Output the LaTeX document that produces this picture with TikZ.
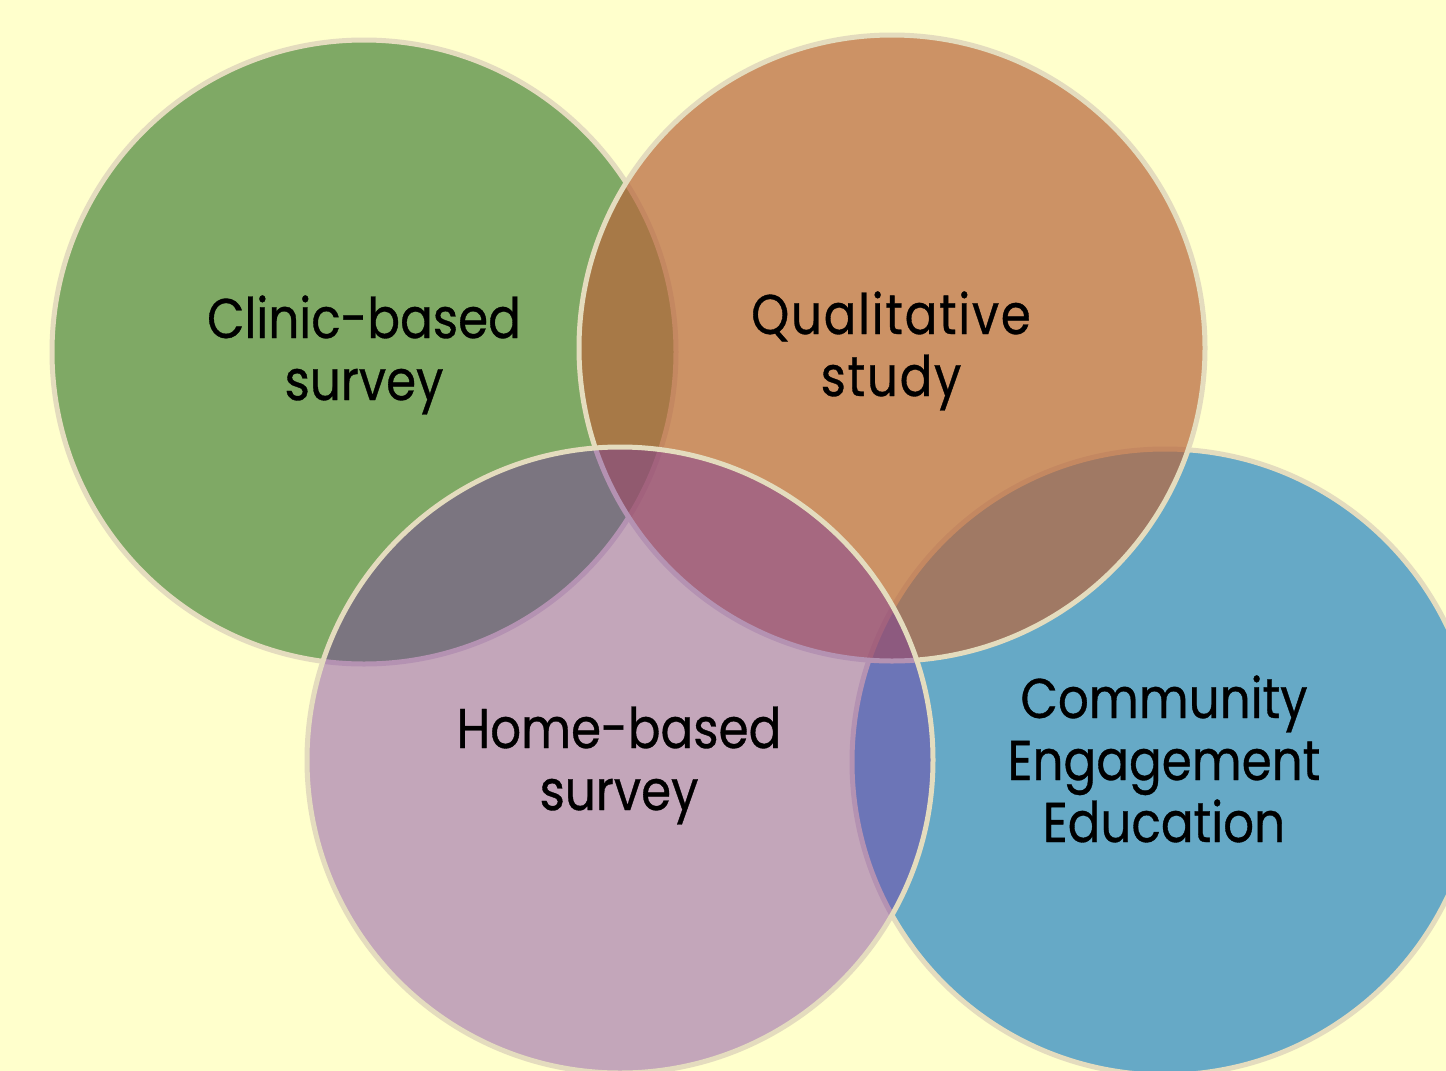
\documentclass[tikz,border=0pt]{standalone}
\usepackage{fontspec}
\newfontfamily\labelfont[FakeStretch=0.865,FakeBold=0.6]{Poppins}
\definecolor{bgyellow}{RGB}{255,255,204}
\definecolor{rim}{RGB}{228,220,190}
\definecolor{cgreen}{RGB}{127,169,101}
\definecolor{cblue}{RGB}{102,169,198}
\definecolor{corange}{RGB}{184,102,60}
\definecolor{cpurple}{RGB}{118,50,164}
\begin{document}
\begin{tikzpicture}[x=1pt,y=-1pt,
  circ/.style={draw=rim, line width=5pt},
  lab/.style={font=\labelfont\fontsize{56}{62}\selectfont, align=center, anchor=base, inner sep=0pt, text=black}]
\useasboundingbox (0,0) rectangle (1446,1071);
\clip (0,0) rectangle (1446,1071);
\fill[bgyellow] (0,0) rectangle (1446,1071);
% circles, bottom to top
\path[circ, fill=cgreen] (364,352) circle (312pt);
\path[circ, fill=cblue] (1165,762) circle (313pt);
\path[circ, fill=corange, fill opacity=0.71] (892,348) circle (313pt);
\path[circ, fill=cpurple, fill opacity=0.43] (620,760) circle (313pt);
% labels (anchor at the baseline of the last line)
\node[lab] (clinic) at (364,400) {Clinic-based\\survey};
\node[lab] (qual) at (891,396) {\addfontfeature{LetterSpace=3}Qualitative\\\addfontfeature{LetterSpace=3}study};
\node[lab] (home) at (619,810) {Home-based\\survey};
\node[lab] (comm) at (1164,842) {Community\\Engagement\\Education};
\end{tikzpicture}
\end{document}
